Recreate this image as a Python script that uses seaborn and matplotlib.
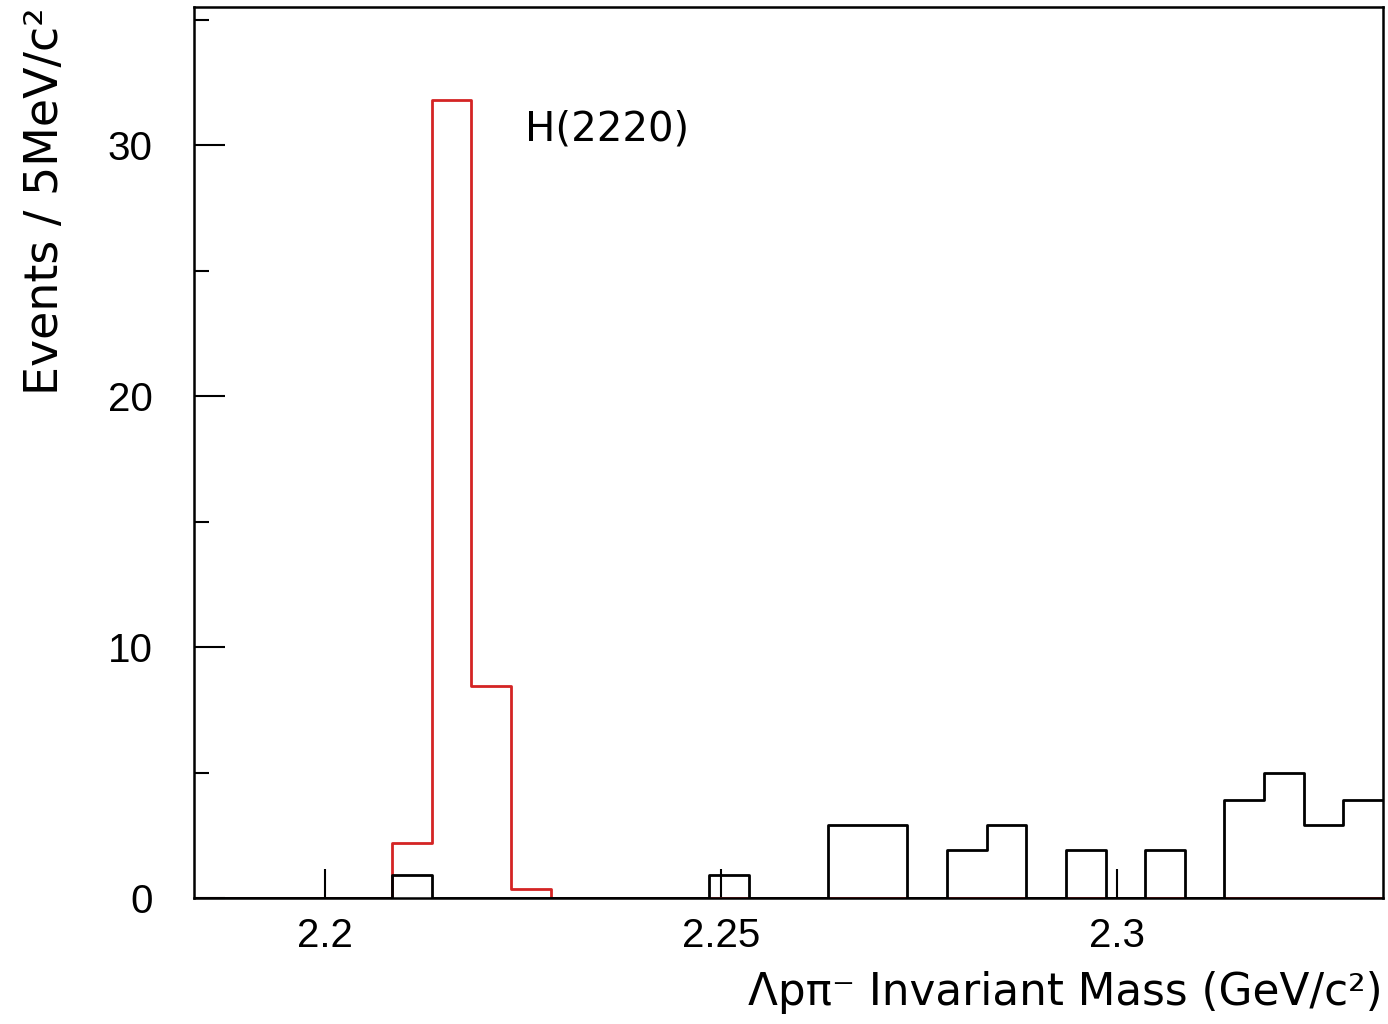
import numpy as np
import pandas as pd
import matplotlib
matplotlib.use("Agg")
import matplotlib.pyplot as plt
import seaborn as sns

# ---- data ----
bin_lo = 2.1835
bin_width = 0.005
n_bins = 30
# red histogram (H(2220) signal, weighted)
signal_counts = [0, 0, 0, 0, 0, 2.2, 31.8, 8.45, 0.35, 0,
                 0, 0, 0, 0, 0, 0, 0, 0, 0, 0,
                 0, 0, 0, 0, 0, 0, 0, 0, 0, 0]
# black histogram (data)
data_counts = [0, 0, 0, 0, 0, 0.9, 0, 0, 0, 0,
               0, 0, 0, 0.9, 0, 0, 2.9, 2.9, 0, 1.9,
               2.9, 0, 1.9, 0, 1.9, 0, 3.9, 5.0, 2.9, 3.9]
x_ticks = [2.2, 2.25, 2.3]
x_ticklabels = ["2.2", "2.25", "2.3"]
y_ticks = [0, 10, 20, 30]
y_minor = [5, 15, 25, 35]
annotation = "H(2220)"
annotation_xy = (2.2253, 30.6)
xlabel = "Λpπ⁻ Invariant Mass (GeV/c²)"
ylabel = "Events / 5MeV/c²"

edges = [round(bin_lo + bin_width * i, 6) for i in range(n_bins + 1)]
centers = [(edges[i] + edges[i + 1]) / 2 for i in range(n_bins)]

df = pd.DataFrame({"mass": centers * 2,
                   "w": list(signal_counts) + list(data_counts),
                   "set": ["signal"] * n_bins + ["data"] * n_bins})

sns.set_style("ticks")
plt.rcParams["font.family"] = ["Liberation Sans", "DejaVu Sans"]
plt.rcParams["text.color"] = "black"
plt.rcParams["axes.labelcolor"] = "black"
plt.rcParams["xtick.color"] = "black"
plt.rcParams["ytick.color"] = "black"

fig = plt.figure(figsize=(13.88, 10.24), dpi=100)
ax = fig.add_axes([0.1398, 0.123, 0.8566, 0.8702])

sns.histplot(data=df[df["set"] == "signal"], x="mass", weights="w", bins=edges,
             element="step", fill=False, color="#d42424", linewidth=2.0, ax=ax)
sns.histplot(data=df[df["set"] == "data"], x="mass", weights="w", bins=edges,
             element="step", fill=False, color="black", linewidth=2.0, ax=ax)

ax.set_xlim(edges[0], edges[-1])
ax.set_ylim(0, 35.5)

ax.set_xticks(x_ticks)
ax.set_xticklabels(x_ticklabels)
ax.set_yticks(y_ticks)
ax.set_yticks(y_minor, minor=True)

for s in ax.spines.values():
    s.set_linewidth(1.8)
    s.set_color("black")
    s.set_visible(True)

ax.tick_params(axis="x", which="major", direction="in", length=21, width=1.5,
               pad=14, labelsize=29, colors="black")
ax.tick_params(axis="y", which="major", direction="in", length=22, width=1.5,
               pad=30, labelsize=29, colors="black")
ax.tick_params(axis="y", which="minor", direction="in", length=11, width=1.5,
               colors="black")

ax.text(annotation_xy[0], annotation_xy[1], annotation, ha="left", va="center",
        fontsize=29, family=["DejaVu Sans"], color="black")

ax.set_xlabel(xlabel, fontsize=31.5, loc="right", family=["DejaVu Sans"], color="black")
ax.set_ylabel(ylabel, fontsize=33, loc="top", family=["DejaVu Sans"], color="black")
ax.xaxis.set_label_coords(1.0, -0.082)
ax.yaxis.set_label_coords(-0.106, 1.0)

fig.savefig("out.png", dpi=100, facecolor="white")
